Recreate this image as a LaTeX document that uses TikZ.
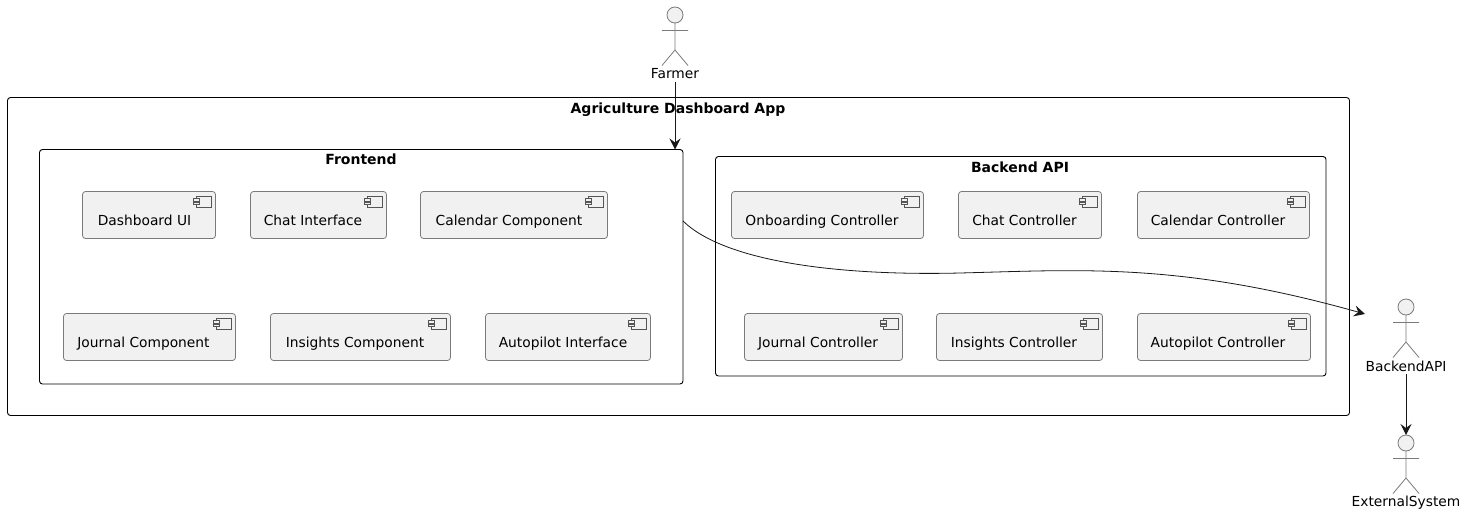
\documentclass[tikz,border=0pt]{standalone}
\usepackage{fontspec}
\setmainfont{DejaVu Sans}
\usetikzlibrary{arrows.meta}
\definecolor{umlfill}{HTML}{F1F1F1}
\definecolor{umlline}{HTML}{181818}
\definecolor{umlgrey}{HTML}{7A7A7A}
\tikzset{
  x=1pt,y=-1pt,
  pack/.style={draw=black,line width=0.9pt,rounded corners=3pt,fill=white},
  packtitle/.style={font=\bfseries\fontsize{14}{16}\selectfont,inner sep=0pt,anchor=base},
  comp/.style={draw=umlgrey,line width=0.8pt,rounded corners=3pt,fill=umlfill},
  complabel/.style={font=\fontsize{13.8}{16}\selectfont,inner sep=0pt,anchor=base,text=black},
  actorlabel/.style={font=\fontsize{13.8}{16}\selectfont,inner sep=0pt,anchor=base,text=black},
  actorline/.style={draw=umlgrey,line width=0.8pt},
  flow/.style={draw=umlline,line width=0.8pt,-{Stealth[length=11pt,width=11pt,inset=4pt]}},
  actor/.pic={
    \draw[actorline,fill=umlfill] (0,0) circle[radius=8];
    \draw[actorline] (0,8) -- (0,35) (-13,15.5) -- (13,15.5) (-13,50.5) -- (0,35) -- (13,50.5);
  },
  compicon/.pic={
    \draw[draw=umlgrey!70!black,line width=0.5pt,fill=umlfill] (-5,-5.5) rectangle (10,5.5);
    \draw[draw=umlgrey!70!black,line width=0.5pt,fill=umlfill] (-8,-3) rectangle (-2,-0.5);
    \draw[draw=umlgrey!70!black,line width=0.5pt,fill=umlfill] (-8,0.5) rectangle (-2,3);
  }
}
\newcommand{\compbox}[7]{% name, x1, y1, x2, y2, text center x, text
  \draw[comp] (#2,#3) rectangle (#4,#5);
  \path (#4,#3) ++(-14.5,10) pic {compicon};
  \node[complabel] (#1) at (#6,{#3+33.5}) {#7};
}
\begin{document}
\begin{tikzpicture}
\useasboundingbox (0,0) rectangle (1465,514);
\fill[white] (0,0) rectangle (1465,514);
% packages
\draw[pack] (7.5,97.5) rectangle (1349.5,415.5);
\node[packtitle] (apptitle) at (678,113) {Agriculture Dashboard App};
\draw[pack] (39.5,149.5) rectangle (683,384);
\node[packtitle] (fronttitle) at (361,164) {Frontend};
\coordinate (frontTop) at (675,149.5);
\coordinate (frontEast) at (683,221);
\draw[pack] (715.5,156.5) rectangle (1326,376);
\node[packtitle] (backtitle) at (1020,172) {Backend API};
% components
\compbox{c1}{82.5}{191.5}{215.5}{238.5}{144.5}{Dashboard UI}
\compbox{c2}{250.5}{191.5}{386.5}{238.5}{313}{Chat Interface}
\compbox{c3}{420.5}{191.5}{607.5}{238.5}{509}{Calendar Component}
\compbox{c4}{63.5}{313.5}{235.5}{360.5}{143.5}{Journal Component}
\compbox{c5}{270.5}{313.5}{450.5}{360.5}{355}{Insights Component}
\compbox{c6}{485.5}{313.5}{650.5}{360.5}{563}{Autopilot Interface}
\compbox{c7}{731.5}{191.5}{923.5}{238.5}{822}{Onboarding Controller}
\compbox{c8}{958.5}{191.5}{1101.5}{238.5}{1024.5}{Chat Controller}
\compbox{c9}{1137.5}{191.5}{1309.5}{238.5}{1218}{Calendar Controller}
\compbox{c10}{744.5}{313.5}{902.5}{360.5}{818}{Journal Controller}
\compbox{c11}{936.5}{313.5}{1102.5}{360.5}{1014}{Insights Controller}
\compbox{c12}{1137.5}{313.5}{1310.5}{360.5}{1218}{Autopilot Controller}
% actors
\path (675,15) pic {actor};
\node[actorlabel] (farmer) at (675,78) {Farmer};
\path (1406,307) pic {actor};
\node[actorlabel] (backend) at (1406,371) {BackendAPI};
\path (1406,443) pic {actor};
\node[actorlabel] (external) at (1406,506) {ExternalSystem};
\coordinate (farmerOut) at (675,82);
\coordinate (backendOut) at (1406,374);
\coordinate (backendIn) at (1365,314);
\coordinate (externalIn) at (1406,435);
% connectors
\draw[flow] (farmerOut) -- (frontTop);
\draw[flow] (backendOut) -- (externalIn);
\draw[flow] (frontEast) .. controls (725,262) and (840,276) .. (960,273)
  .. controls (1080,270) and (1180,262) .. (backendIn);
\end{tikzpicture}
\end{document}
